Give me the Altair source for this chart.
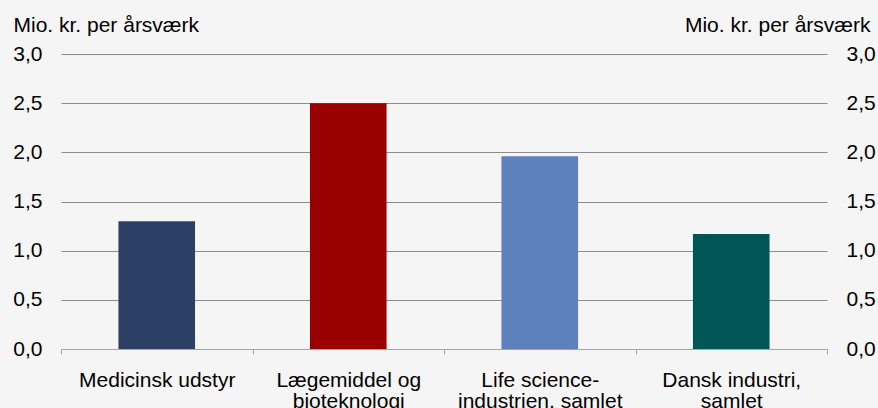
import altair as alt
import pandas as pd

# Value added per full-time employee (mio. kr.)
categories = [
    "Medicinsk udstyr",
    "Lægemiddel og|bioteknologi",
    "Life science-|industrien, samlet",
    "Dansk industri,|samlet",
]
values = [1.30, 2.50, 1.96, 1.17]
colors = ["#2c3f64", "#990000", "#5e80bd", "#005656"]
y_ticks = [0.0, 0.5, 1.0, 1.5, 2.0, 2.5, 3.0]
unit_label = "Mio. kr. per årsværk"

df = pd.DataFrame({"kategori": categories, "værdi": values, "farve": colors})

FONT = "Liberation Sans"
FS = 21
comma = "replace(format(datum.value, '.1f'), '.', ',')"

x_enc = alt.X(
    "kategori:N",
    sort=categories,
    scale=alt.Scale(paddingInner=0, paddingOuter=0),
    axis=alt.Axis(
        title=None,
        labelAngle=0,
        labelExpr="split(datum.label, '|')",
        labelFont=FONT,
        labelFontSize=FS,
        labelColor="#000000",
        labelLineHeight=21,
        labelPadding=15,
        labelBaseline="top",
        domainColor="#a6a6a6",
        domainWidth=1,
        tickColor="#a6a6a6",
        tickSize=5,
        tickBand="extent",
        grid=False,
    ),
)

y_scale = alt.Scale(domain=[0, 3], nice=False)

left_axis = alt.Axis(
    values=y_ticks,
    labelExpr=comma,
    labelFont=FONT,
    labelFontSize=FS,
    labelColor="#000000",
    labelPadding=19,
    ticks=False,
    domain=False,
    grid=True,
    gridColor={"condition": {"test": "datum.value === 0", "value": "transparent"}, "value": "#8c8c8c"},
    gridWidth=1,
    title=unit_label,
    titleFont=FONT,
    titleFontSize=FS,
    titleFontWeight="normal",
    titleColor="#000000",
    titleAngle=0,
    titleAlign="left",
    titleBaseline="alphabetic",
    titleX=-48,
    titleY=-23,
)

right_axis = alt.Axis(
    orient="right",
    values=y_ticks,
    labelExpr=comma,
    labelFont=FONT,
    labelFontSize=FS,
    labelColor="#000000",
    labelPadding=19,
    ticks=False,
    domain=False,
    grid=False,
    title=unit_label,
    titleFont=FONT,
    titleFontSize=FS,
    titleFontWeight="normal",
    titleColor="#000000",
    titleAngle=0,
    titleAlign="right",
    titleBaseline="alphabetic",
    titleX=43,
    titleY=-23,
)

bars = alt.Chart(df).mark_bar(width={"band": 0.4}).encode(
    x=x_enc,
    y=alt.Y("værdi:Q", scale=y_scale, axis=left_axis),
    color=alt.Color("farve:N", scale=None, legend=None),
)

right = alt.Chart(df).mark_point(opacity=0).encode(
    x=alt.X("kategori:N", sort=categories),
    y=alt.Y("værdi:Q", scale=y_scale, axis=right_axis),
)

chart = (
    alt.layer(bars, right)
    .resolve_axis(y="independent")
    .properties(
        width=766,
        height=295,
        background="#f5f5f5",
        padding={"left": 61, "top": 54, "right": 51, "bottom": 59},
        autosize=alt.AutoSizeParams(type="none"),
    )
    .configure_view(stroke=None)
)

chart.save("out.html", embed_options={"renderer": "svg", "actions": False})
